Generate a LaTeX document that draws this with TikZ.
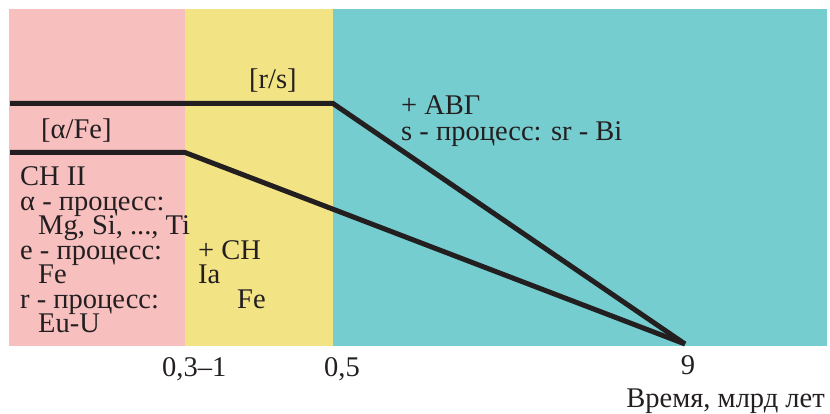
\documentclass[tikz,border=0pt]{standalone}
\usepackage{fontspec}
\setmainfont{Liberation Serif}
\definecolor{zonepink}{HTML}{F8BFBF}
\definecolor{zoneyellow}{HTML}{F2E384}
\definecolor{zoneteal}{HTML}{76CDCF}
\definecolor{ink}{HTML}{231F20}
\tikzset{
  lbl/.style={anchor=base west, inner sep=0pt, text=ink, font=\fontsize{28.5}{24}\selectfont},
  trend/.style={draw=ink, line width=5pt, line join=miter},
}
\begin{document}
\begin{tikzpicture}[x=1pt, y=-1pt]
\useasboundingbox (0,0) rectangle (830,414);
% epochs
\fill[zonepink]   (9,9)   rectangle (185,346);
\fill[zoneyellow] (185,9) rectangle (333,346);
\fill[zoneteal]   (333,9) rectangle (827,346);

% abundance ratio trends
\coordinate (rs0) at (10,103.5);
\coordinate (rs1) at (333,103.5);
\coordinate (af0) at (10,152.5);
\coordinate (af1) at (185,152.5);
\coordinate (end) at (685,344);
\draw[trend] (rs0) -- (rs1) -- (end);
\draw[trend] (af0) -- (af1) -- (end);

\node[lbl] (rslbl) at (249,89) {[r/s]};
\node[lbl] (aflbl) at (41,139) {[α/Fe]};

% first epoch
\node[lbl] (p1) at (20,186)   {CH II};
\node[lbl] (p2) at (20,210.4) {α - процесс:};
\node[lbl] (p3) at (38,234.8) {Mg, Si, ..., Ti};
\node[lbl] (p4) at (20,259.2) {e - процесс:};
\node[lbl] (p5) at (38,283.6) {Fe};
\node[lbl] (p6) at (20,308)   {r - процесс:};
\node[lbl] (p7) at (38,332.4) {Eu-U};

% second epoch
\node[lbl] (y1) at (198,259.2) {+ CH};
\node[lbl] (y2) at (198,283.6) {Ia};
\node[lbl] (y3) at (237,308)   {Fe};

% third epoch
\node[lbl] (t1) at (401,115) {+ АВГ};
\node[lbl] (t2) at (401,141) {s - процесс: sr - Bi};

% time axis
\node[lbl] (x1) at (162,376) {0,3--1};
\node[lbl] (x2) at (324,376) {0,5};
\node[lbl, anchor=base] (x3) at (688,374) {9};
\node[lbl, anchor=base east] (xt) at (825,407) {Время, млрд лет};
\end{tikzpicture}
\end{document}
